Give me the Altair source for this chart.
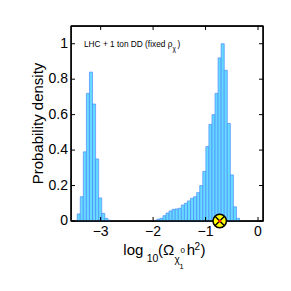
import altair as alt
import pandas as pd

# ---- data ----
X_DOMAIN = [-3.47, 0.0]
Y_DOMAIN = [0.0, 1.1]
X_TICKS = [-3, -2, -1, 0]
Y_TICKS = [0, 0.2, 0.4, 0.6, 0.8, 1]
BIN_ORIGIN = -3.447
BIN_WIDTH = 0.0584
DENSITY = [
    0.04, 0.137, 0.39, 0.72, 0.84, 0.66, 0.35, 0.13, 0.043, 0.015,
    0.004, 0, 0, 0, 0, 0, 0, 0, 0, 0,
    0, 0, 0, 0, 0, 0, 0.01, 0.015, 0.03, 0.045,
    0.057, 0.066, 0.068, 0.072, 0.09, 0.10, 0.113, 0.128, 0.137, 0.16,
    0.20, 0.28, 0.42, 0.545, 0.60, 0.72, 0.92, 1.0, 0.85, 0.55,
    0.26, 0.08, 0.015,
]
MARKER_X = [-0.73]
MARKER_Y = [0.0]

FONT = "Liberation Sans"
W, H = 192, 195
TICK = 4

xs = alt.Scale(domain=X_DOMAIN, nice=False, zero=False)
ys = alt.Scale(domain=Y_DOMAIN, nice=False)


def X(field):
    return alt.X(field, scale=xs, axis=None)


def Y(field):
    return alt.Y(field, scale=ys, axis=None)


starts = [BIN_ORIGIN + i * BIN_WIDTH for i in range(len(DENSITY))]
df = pd.DataFrame({"start": starts,
                   "end": [s + BIN_WIDTH for s in starts],
                   "density": DENSITY})
df = df[df["density"] > 0]

bars = alt.Chart(df).mark_bar(fill="#66D9FF", stroke="#4C8CFF", strokeWidth=0.7,
                              orient="vertical").encode(
    x=X("start:Q"), x2="end:Q", y=Y("density:Q"), y2=alt.datum(0),
)

one = pd.DataFrame({"k": [0]})
line_style = dict(color="black", strokeWidth=1.3)
frame = [
    alt.Chart(one).mark_rule(**line_style).encode(
        x=alt.value(0), x2=alt.value(W), y=alt.value(0)),
    alt.Chart(one).mark_rule(**line_style).encode(
        x=alt.value(0), x2=alt.value(W), y=alt.value(H)),
    alt.Chart(one).mark_rule(**line_style).encode(
        x=alt.value(0), y=alt.value(0), y2=alt.value(H)),
    alt.Chart(one).mark_rule(**line_style).encode(
        x=alt.value(W), y=alt.value(0), y2=alt.value(H)),
]

# inward tick marks on all four sides, and tick labels
xt = pd.DataFrame({"v": X_TICKS})
yt = pd.DataFrame({"v": Y_TICKS})
tick_style = dict(color="black", strokeWidth=1)
ticks = [
    alt.Chart(xt).mark_rule(**tick_style).encode(
        x=X("v:Q"), y=alt.value(H), y2=alt.value(H - TICK)),
    alt.Chart(xt).mark_rule(**tick_style).encode(
        x=X("v:Q"), y=alt.value(0), y2=alt.value(TICK)),
    alt.Chart(yt).mark_rule(**tick_style).encode(
        y=Y("v:Q"), x=alt.value(0), x2=alt.value(TICK)),
    alt.Chart(yt).mark_rule(**tick_style).encode(
        y=Y("v:Q"), x=alt.value(W), x2=alt.value(W - TICK)),
]
tick_labels = [
    alt.Chart(xt).mark_text(font=FONT, fontSize=14, color="black",
                            align="center", baseline="top").encode(
        x=X("v:Q"), y=alt.value(H + 4), text=alt.Text("v:Q", format="~g")),
    alt.Chart(yt).mark_text(font=FONT, fontSize=14, color="black",
                            align="right", baseline="middle").encode(
        y=Y("v:Q"), x=alt.value(-3), text=alt.Text("v:Q", format="~g")),
]

mdf = pd.DataFrame({"x": MARKER_X, "y": MARKER_Y})
m_circle = alt.Chart(mdf).mark_point(shape="circle", filled=True, fill="#FFFF00",
                                     stroke="black", strokeWidth=1.5, size=180,
                                     opacity=1).encode(x=X("x:Q"), y=Y("y:Q"))
m_x = alt.Chart(mdf).mark_point(shape="M-1,-1L1,1M-1,1L1,-1", filled=False,
                                stroke="black", strokeWidth=1.4, size=90,
                                opacity=1).encode(x=X("x:Q"), y=Y("y:Q"))
m_dot = alt.Chart(mdf).mark_point(shape="circle", filled=True, fill="#FF2000",
                                  size=10, opacity=1).encode(x=X("x:Q"), y=Y("y:Q"))


def label(text, x, y, size, align="left", baseline="alphabetic", angle=0, font=FONT):
    return alt.Chart(pd.DataFrame({"t": [text]})).mark_text(
        font=font, fontSize=size, color="black", align=align,
        baseline=baseline, angle=angle,
    ).encode(text="t:N", x=alt.value(x), y=alt.value(y))


texts = [
    label("LHC + 1 ton DD (fixed ρ", 13, 21.3, 8.3),
    label("χ", 101.5, 24.5, 6.5),
    label(")", 106.5, 21.3, 8.3),
    label("Probability density", -33.5, H / 2, 15, align="center",
          baseline="middle", angle=270),
    label("log", 52.3, 229, 15),
    label("10", 75.7, 235.7, 10.5),
    label("(Ω", 87, 229, 15),
    label("χ", 103.5, 237, 10),
    label("0", 109.5, 227, 8),
    label("1", 108.5, 243, 7.5),
    label("h", 115.7, 229, 15),
    label("2", 123.5, 224, 10),
    label(")", 129.5, 229, 15),
]

chart = alt.layer(bars, *frame, *ticks, *tick_labels,
                  m_circle, m_x, m_dot, *texts).properties(
    width=W, height=H,
    background="white",
    autosize=alt.AutoSizeParams(type="none"),
    padding={"left": 63, "top": 18, "right": 20, "bottom": 62},
).configure_view(
    stroke="black", strokeWidth=1.3
)

chart.save("out.html", embed_options={"renderer": "svg", "actions": False})
